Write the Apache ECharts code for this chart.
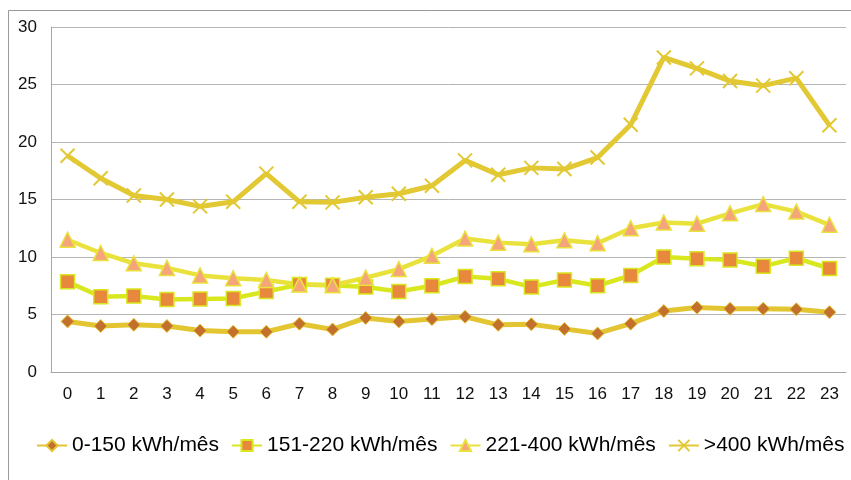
<!DOCTYPE html>
<html>
<head>
<meta charset="utf-8">
<script src="https://cdn.jsdelivr.net/npm/echarts@6/dist/echarts.min.js"></script>
<style>
html, body { margin: 0; padding: 0; background: #fff; }
#chart { width: 851px; height: 480px; }
</style>
</head>
<body>
<div id="chart"></div>
<script>
// horas do dia
var hours = ["0","1","2","3","4","5","6","7","8","9","10","11","12","13","14","15","16","17","18","19","20","21","22","23"];
var seriesNames = ["0-150 kWh/mês", "151-220 kWh/mês", "221-400 kWh/mês", ">400 kWh/mês"];
var s0_150 = [4.4, 4.0, 4.1, 4.0, 3.6, 3.5, 3.5, 4.2, 3.7, 4.7, 4.4, 4.6, 4.8, 4.1, 4.15, 3.75, 3.35, 4.2, 5.3, 5.6, 5.5, 5.5, 5.45, 5.2];
var s151_220 = [7.85, 6.55, 6.6, 6.3, 6.35, 6.4, 7.0, 7.6, 7.55, 7.4, 7.0, 7.5, 8.3, 8.1, 7.4, 8.0, 7.5, 8.4, 10.0, 9.85, 9.75, 9.2, 9.9, 9.0];
var s221_400 = [11.5, 10.35, 9.45, 9.05, 8.4, 8.15, 8.0, 7.6, 7.55, 8.2, 8.95, 10.1, 11.6, 11.25, 11.1, 11.45, 11.2, 12.5, 13.0, 12.9, 13.8, 14.6, 13.95, 12.8];
var s400 = [18.8, 16.85, 15.35, 15.0, 14.4, 14.8, 17.25, 14.8, 14.75, 15.2, 15.5, 16.2, 18.4, 17.15, 17.75, 17.65, 18.65, 21.5, 27.35, 26.4, 25.3, 24.9, 25.55, 21.45];

var myChart = echarts.init(document.getElementById("chart"));

// marcador em X para a serie >400
var xMark = "path://M0,0L10,10M10,0L0,10";

myChart.setOption({
    animation: false,
    textStyle: { fontFamily: "Liberation Sans, Arial, sans-serif" },
    graphic: [{
        type: "rect",
        shape: { x: 8.5, y: 10.5, width: 860, height: 480 },
        style: { fill: "none", stroke: "#9a9a9a", lineWidth: 1 },
        silent: true
    }],
    grid: { left: 51, right: 5, top: 27, bottom: 108 },
    legend: {
        left: 36,
        top: 435,
        width: 815,
        padding: 0,
        itemWidth: 30,
        itemHeight: 14,
        itemGap: 12,
        textStyle: { fontSize: 21, color: "#000" },
        data: seriesNames
    },
    xAxis: {
        type: "category",
        data: hours,
        boundaryGap: true,
        axisLine: { lineStyle: { color: "#a6a6a6" } },
        axisTick: { show: false },
        axisLabel: { fontSize: 17, color: "#111", margin: 14 }
    },
    yAxis: {
        type: "value",
        min: 0,
        max: 30,
        interval: 5,
        axisLine: { show: true, lineStyle: { color: "#a6a6a6" } },
        axisTick: { show: false },
        axisLabel: { fontSize: 17, color: "#111", margin: 14 },
        splitLine: { lineStyle: { color: "#b5b5b5" } }
    },
    series: [{
        name: seriesNames[0],
        type: "line",
        data: s0_150,
        symbol: "diamond",
        symbolSize: 13,
        lineStyle: { color: "#E3C532", width: 5 },
        itemStyle: { color: "#C2702C", borderColor: "#E3C532", borderWidth: 1 }
    }, {
        name: seriesNames[1],
        type: "line",
        data: s151_220,
        symbol: "rect",
        symbolSize: 14,
        lineStyle: { color: "#D9E81E", width: 4.5 },
        itemStyle: { color: "#E8883C", borderColor: "#D9E81E", borderWidth: 1.5 }
    }, {
        name: seriesNames[2],
        type: "line",
        data: s221_400,
        symbol: "triangle",
        symbolSize: 15,
        lineStyle: { color: "#EAE23C", width: 4.5 },
        itemStyle: { color: "#F4A57A", borderColor: "#EAE23C", borderWidth: 1.5 }
    }, {
        name: seriesNames[3],
        type: "line",
        data: s400,
        symbol: xMark,
        symbolSize: 14,
        lineStyle: { color: "#E2C832", width: 5 },
        itemStyle: { color: "none", borderColor: "#E2C832", borderWidth: 2 }
    }]
});

window.addEventListener("resize", function () {
    myChart.resize();
});
</script>
</body>
</html>
